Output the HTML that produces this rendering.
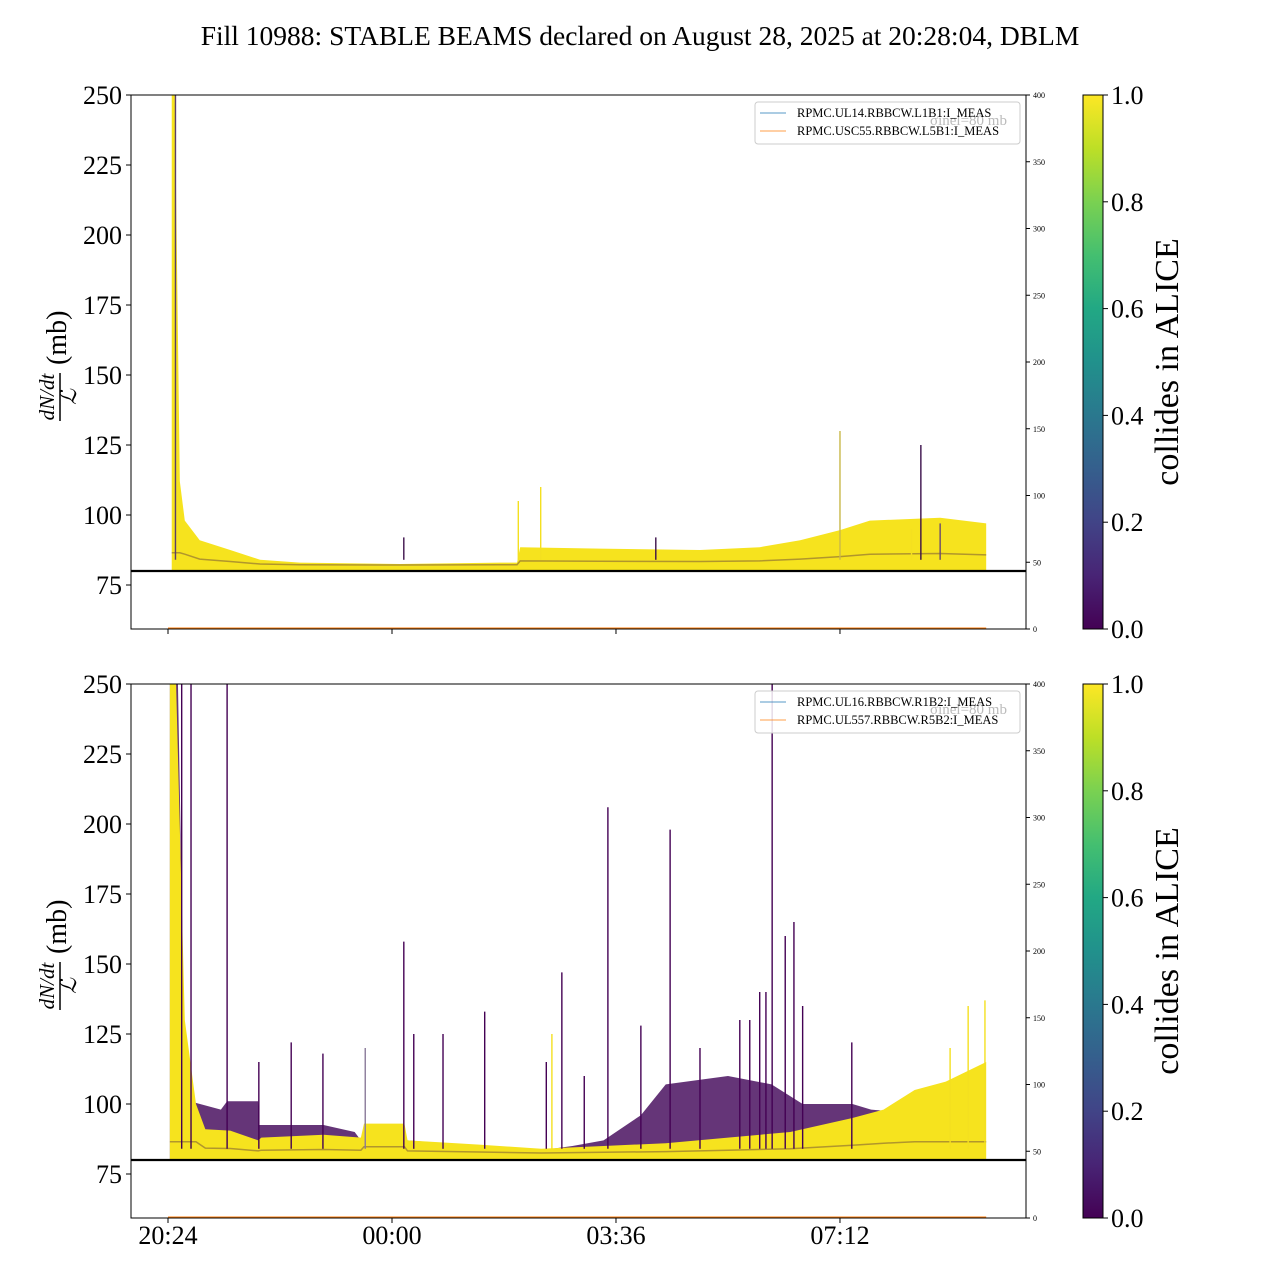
<!DOCTYPE html>
<html><head><meta charset="utf-8"><style>
body{margin:0;background:#fff}
svg{display:block;font-family:"Liberation Serif","DejaVu Serif",serif}
</style></head><body>
<svg id="c" width="1280" height="1280" viewBox="0 0 1280 1280" xmlns="http://www.w3.org/2000/svg">
<defs>
<linearGradient id="vir" x1="0" y1="1" x2="0" y2="0">
<stop offset="0" stop-color="#440154"/><stop offset="0.1" stop-color="#482475"/><stop offset="0.2" stop-color="#414487"/><stop offset="0.3" stop-color="#355f8d"/><stop offset="0.4" stop-color="#2a788e"/><stop offset="0.5" stop-color="#21918c"/><stop offset="0.6" stop-color="#22a884"/><stop offset="0.7" stop-color="#44bf70"/><stop offset="0.8" stop-color="#7ad151"/><stop offset="0.9" stop-color="#bddf26"/><stop offset="1" stop-color="#fde725"/>
</linearGradient>
</defs>
<text x="640" y="45" font-size="27.5" text-anchor="middle">Fill 10988: STABLE BEAMS declared on August 28, 2025 at 20:28:04, DBLM</text>
</svg>
<script>
// ---- data (hours since 20:24, values in mb) ----
const xTickLabels = ["20:24","00:00","03:36","07:12"];
const xTickHours = [0, 3.6, 7.2, 10.8];
const yTicks = [75,100,125,150,175,200,225,250];
const rightTicks = [0,50,100,150,200,250,300,350,400];
const cbTicks = ["0.0","0.2","0.4","0.6","0.8","1.0"];
const thresholdValue = 80;

const topYellowHours = [0.06,0.11,0.19,0.27,0.51,1.0,1.48,2.12,3.73,5.34,5.61,5.66,6.94,8.55,9.51,10.16,10.8,11.28,12.41,13.15];
const topYellowVals  = [250,250,112,98,91,87.5,84,83,82.5,83,83,88.5,88,87.5,88.5,91,94.6,98,99,97];
const topSpikeHours = [0.12,3.79,5.63,5.99,7.84,10.8,12.1,12.41,11.95];
const topSpikeVals  = [250,92,105,110,92,130,125,97,95];
const topSpikeColor = ["#5a3d6b","#3b0f4a","#f4e020","#f4e020","#3b0f4a","#c9b84a","#3b0f4a","#6a4a70","#f4e020"];

const botPurpleHours = [0.03,0.16,0.27,0.35,0.85,0.95,1.45,1.47,2.5,3.0,3.1,3.15,3.8,3.85,5.0,6.0,6.5,7.0,7.6,8.0,9.0,9.7,10.2,11.0,11.3,11.8];
const botPurpleVals  = [250,250,110,101,98,101,101,92.5,92.5,90,87,88,88,87,85,83.5,85,87,96,107,110,107,100,100,98,97];
const botYellowHours = [0.03,0.13,0.27,0.45,0.6,1.0,1.45,1.5,2.5,3.1,3.15,3.8,3.85,5.0,6.0,7.0,8.0,9.0,10.0,11.0,11.5,12.0,12.5,13.15];
const botYellowVals  = [250,250,130,100,91,90.5,87,88,89,88,93,93,87,85.5,84,85,86,88,90,95,98,105,108,115];
const botSpikeHours = [0.22,0.37,0.95,1.46,1.98,2.49,3.17,3.79,3.95,4.42,5.09,6.08,6.17,6.33,6.69,7.07,7.6,8.07,8.55,9.19,9.35,9.51,9.61,9.71,9.92,10.06,10.2,10.99,12.57,12.86,13.13];
const botSpikeVals  = [250,250,250,115,122,118,120,158,125,125,133,115,125,147,110,206,128,198,120,130,130,140,140,250,160,165,135,122,120,135,137];
const botSpikeColor = ["#440154","#440154","#440154","#440154","#440154","#440154","#8a7a9a","#440154","#440154","#440154","#440154","#440154","#f4e020","#440154","#440154","#440154","#440154","#440154","#440154","#440154","#440154","#440154","#440154","#440154","#440154","#440154","#440154","#440154","#f4e020","#f4e020","#f4e020"];

// ---- scales ----
const svg = document.getElementById('c');
const NS = 'http://www.w3.org/2000/svg';
const X0 = 131, X1 = 1026;
const xs = h => 168 + h * 62.22;
function mk(tag, attrs, parent){ const e=document.createElementNS(NS,tag); for(const k in attrs) e.setAttribute(k,attrs[k]); (parent||svg).appendChild(e); return e; }

function panel(top, name, yH, yV, sH, sV, sC, pH, pV, legend, showX){
  const ys = v => top + (250 - v) * 2.8;
  const bottom = top + 534;
  const yr = v => bottom - v * (534/400);
  const g = mk('g', {});
  
  
  if (pH){
    let d = 'M' + xs(pH[0]) + ',' + ys(thresholdValue);
    for (let i=0;i<pH.length;i++) d += ' L' + xs(pH[i]) + ',' + ys(pV[i]);
    d += ' L' + xs(pH[pH.length-1]) + ',' + ys(thresholdValue) + 'Z';
    const p = mk('path', {d, fill:'#4a1260', opacity:'0.85'}, g);
    
    
  }
  let d = 'M' + xs(yH[0]) + ',' + ys(thresholdValue);
  for (let i=0;i<yH.length;i++) d += ' L' + xs(yH[i]) + ',' + ys(yV[i]);
  d += ' L' + xs(yH[yH.length-1]) + ',' + ys(thresholdValue) + 'Z';
  const yb = mk('path', {d, fill:'#f6e31e'}, g);
  
  
  let d2 = '';
  for (let i=0;i<yH.length;i++){ const v = Math.min(yV[i], thresholdValue + 1.5 + Math.min(5,(yV[i]-thresholdValue)*0.25)); d2 += (i?' L':'M') + xs(yH[i]) + ',' + ys(v); }
  const tl = mk('path', {d:d2, fill:'none', stroke:'#6b4a3a', 'stroke-width':'1.5', opacity:'0.5'}, g);
  
  
  for (let i=0;i<sH.length;i++){
    const s = mk('line', {x1:xs(sH[i]), x2:xs(sH[i]), y1:ys(thresholdValue+4), y2:Math.max(top, ys(sV[i])), stroke:sC[i], 'stroke-width':'1.4'}, g);
    
    
  }
  const th = mk('line', {x1:X0, x2:X1, y1:ys(thresholdValue), y2:ys(thresholdValue), stroke:'#000', 'stroke-width':'2.2'}, g);
  
  
  const ol = mk('line', {x1:xs(0), x2:xs(13.15), y1:yr(0)-1, y2:yr(0)-1, stroke:'#ff7f0e', 'stroke-width':'1'}, g);
  
  
  const fr = mk('rect', {x:X0, y:top, width:X1-X0, height:534, fill:'none', stroke:'#000', 'stroke-width':'1'}, g);
  
  
  yTicks.forEach(v=>{
    mk('line', {x1:X0-5, x2:X0, y1:ys(v), y2:ys(v), stroke:'#000'}, g);
    const t = mk('text', {x:X0-9, y:ys(v)+9, 'font-size':'26', 'text-anchor':'end'}, g);
    t.textContent = v;
    
    
  });
  rightTicks.forEach(v=>{
    mk('line', {x1:X1, x2:X1+4, y1:yr(v), y2:yr(v), stroke:'#000'}, g);
    const t = mk('text', {x:X1+7, y:yr(v)+3, 'font-size':'8'}, g);
    t.textContent = v;
    
    
  });
  xTickHours.forEach((h,i)=>{
    mk('line', {x1:xs(h), x2:xs(h), y1:bottom, y2:bottom+5, stroke:'#000'}, g);
    if (showX){
      const t = mk('text', {x:xs(h), y:bottom+26, 'font-size':'26', 'text-anchor':'middle'}, g);
      t.textContent = xTickLabels[i];
      
      
    }
  });
  const cy = top + 267;
  const yl = mk('g', {transform:'translate(62,'+ (cy-5) +') rotate(-90)'}, g);
  
  
  const n = mk('text', {x:-40, y:-8, 'font-size':'21', 'font-style':'italic', 'text-anchor':'middle'}, yl); n.textContent='dN/dt';
  mk('line', {x1:-64, x2:-16, y1:-2, y2:-2, stroke:'#000', 'stroke-width':'1.5'}, yl);
  const l = mk('text', {x:-40, y:14, 'font-size':'22', 'font-style':'italic', 'text-anchor':'middle'}, yl); l.textContent='ℒ';
  const mb = mk('text', {x:-8, y:4, 'font-size':'28'}, yl); mb.textContent='(mb)';
  const lg = mk('g', {}, g);
  
  
  mk('rect', {x:755, y:top+7, width:265, height:42, rx:3, fill:'#fff', 'fill-opacity':'0.85', stroke:'#ccc'}, lg);
  const gh = mk('text', {x:930, y:top+30, 'font-size':'15', fill:'#bbb'}, lg); gh.textContent='σinel=80 mb';
  mk('line', {x1:760, x2:786, y1:top+18, y2:top+18, stroke:'#1f77b4', 'stroke-width':'0.8'}, lg);
  mk('line', {x1:760, x2:786, y1:top+36, y2:top+36, stroke:'#ff7f0e', 'stroke-width':'0.8'}, lg);
  legend.forEach((s,i)=>{
    const t = mk('text', {x:797, y:top+22+i*18, 'font-size':'12.5'}, lg);
    t.textContent = s;
    
    
  });
  const cb = mk('rect', {x:1083, y:top, width:20, height:534, fill:'url(#vir)', stroke:'#000', 'stroke-width':'1'}, g);
  
  
  cbTicks.forEach((s,i)=>{
    const y = bottom - i*534/5;
    mk('line', {x1:1103, x2:1108, y1:y, y2:y, stroke:'#000'}, g);
    const t = mk('text', {x:1111, y:y+9, 'font-size':'26'}, g);
    t.textContent = s;
    
    
  });
  const ct = mk('text', {x:0, y:0, 'font-size':'34', 'text-anchor':'middle', transform:'translate(1178,'+cy+') rotate(-90)'}, g);
  ct.textContent = 'collides in ALICE';
  
  
}
panel(95, 'top-panel', topYellowHours, topYellowVals, topSpikeHours, topSpikeVals, topSpikeColor, null, null,
  ['RPMC.UL14.RBBCW.L1B1:I_MEAS','RPMC.USC55.RBBCW.L5B1:I_MEAS'], false);
panel(684, 'bottom-panel', botYellowHours, botYellowVals, botSpikeHours, botSpikeVals, botSpikeColor, botPurpleHours, botPurpleVals,
  ['RPMC.UL16.RBBCW.R1B2:I_MEAS','RPMC.UL557.RBBCW.R5B2:I_MEAS'], true);
</script>
</body></html>
